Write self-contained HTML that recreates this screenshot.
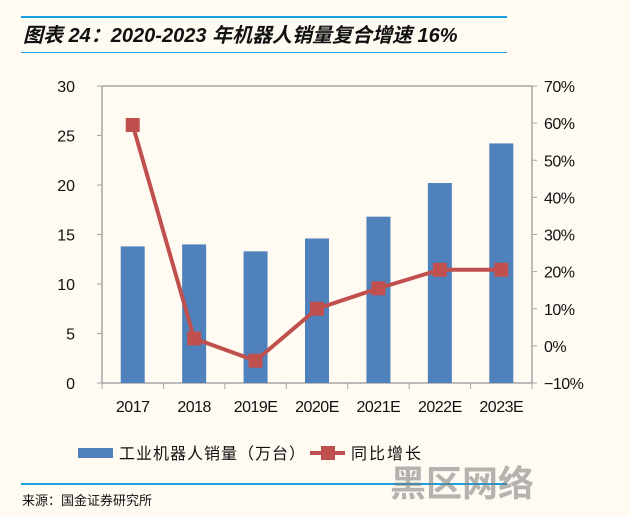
<!DOCTYPE html>
<html><head><meta charset="utf-8">
<style>
body{margin:0;background:#fffbf2;}
#wrap{position:relative;width:630px;height:517px;background:#fffbf2;font-family:"Liberation Sans","Noto Sans CJK SC",sans-serif;overflow:hidden}
.hl{position:absolute;left:21px;width:486px;height:2px;background:#1a9fe0}
</style></head>
<body>
<div id="wrap">
<div class="hl" style="top:16px"></div>
<div style="position:absolute;left:23px;top:19px;font-size:20px;font-weight:bold;font-style:italic;color:#111;white-space:nowrap">图表 24：2020-2023 年机器人销量复合增速 16%</div>
<div class="hl" style="top:52px;height:1px"></div>
<svg id="svg" width="630" height="517" style="position:absolute;left:0;top:0"></svg>
<div class="hl" style="top:483px;width:486px"></div>
<div style="position:absolute;left:22px;top:490px;font-size:13px;color:#111">来源：国金证券研究所</div>
<div style="position:absolute;left:390px;top:455px;font-size:36px;font-weight:bold;color:rgba(120,120,120,0.55);white-space:nowrap">黑区网络</div>
</div>
<script>
const categories=["2017","2018","2019E","2020E","2021E","2022E","2023E"];
const sales=[13.8,14.0,13.3,14.6,16.8,20.2,24.2];
const growth=[59.5,2,-4,10,15.5,20.5,20.5];
const leftTicks=[0,5,10,15,20,25,30];
const rightTicks=[-10,0,10,20,30,40,50,60,70];
const NS="http://www.w3.org/2000/svg";
const svg=document.getElementById('svg');
const X0=102,X1=532,Y0=383,Y1=86;
const band=(X1-X0)/categories.length;
const xc=i=>X0+band*(i+0.5);
const yL=v=>Y0-(v-0)/30*(Y0-Y1);
const yR=v=>Y0-(v+10)/80*(Y0-Y1);
function el(t,a,txt){const e=document.createElementNS(NS,t);for(const k in a)e.setAttribute(k,a[k]);if(txt!==undefined)e.textContent=txt;svg.appendChild(e);return e;}
let e;
e=el('line',{x1:X0,y1:Y1,x2:X1,y2:Y1,stroke:'#a6a6a6','stroke-width':1.5});

e=el('line',{x1:X0,y1:Y1,x2:X0,y2:Y0,stroke:'#a6a6a6','stroke-width':1.5});

e=el('line',{x1:X1,y1:Y1,x2:X1,y2:Y0,stroke:'#a6a6a6','stroke-width':1.5});

e=el('line',{x1:X0,y1:Y0,x2:X1,y2:Y0,stroke:'#a6a6a6','stroke-width':1.5});

leftTicks.forEach(v=>{
 e=el('line',{x1:X0-5,y1:yL(v),x2:X0,y2:yL(v),stroke:'#a6a6a6'});
 
 e=el('text',{x:X0-27,y:yL(v)+6,'text-anchor':'end','font-size':16,fill:'#111'},String(v));
 
});
rightTicks.forEach(v=>{
 e=el('line',{x1:X1,y1:yR(v),x2:X1+5,y2:yR(v),stroke:'#a6a6a6'});
 
 e=el('text',{x:X1+12,y:yR(v)+6,'font-size':16,fill:'#111','letter-spacing':'-0.5'},(v<0?'−':'')+Math.abs(v)+'%');
 
});
for(let i=0;i<=categories.length;i++){
 e=el('line',{x1:X0+band*i,y1:Y0,x2:X0+band*i,y2:Y0+6,stroke:'#a6a6a6'});
 
}
categories.forEach((c,i)=>{
 e=el('rect',{x:xc(i)-12,y:yL(sales[i]),width:24,height:Y0-yL(sales[i]),fill:'#4f81bd'});
 
 e=el('text',{x:xc(i),y:Y0+29,'text-anchor':'middle','font-size':16,fill:'#111','letter-spacing':'-0.5'},c);
 
});
e=el('polyline',{points:growth.map((v,i)=>xc(i)+','+yR(v)).join(' '),fill:'none',stroke:'#c0504d','stroke-width':4,'stroke-linejoin':'round'});

growth.forEach((v,i)=>{
 e=el('rect',{x:xc(i)-7,y:yR(v)-7,width:14,height:14,fill:'#c0504d'});
 
});
e=el('rect',{x:78,y:448,width:35,height:10,fill:'#4f81bd'});

e=el('text',{x:119,y:459,'font-size':16,fill:'#111','letter-spacing':'1'},'工业机器人销量（万台）');

e=el('line',{x1:310,y1:453,x2:345,y2:453,stroke:'#c0504d','stroke-width':4});

e=el('rect',{x:321,y:446,width:14,height:14,fill:'#c0504d'});

e=el('text',{x:351,y:459,'font-size':16,fill:'#111','letter-spacing':'2'},'同比增长');

</script>
</body></html>
